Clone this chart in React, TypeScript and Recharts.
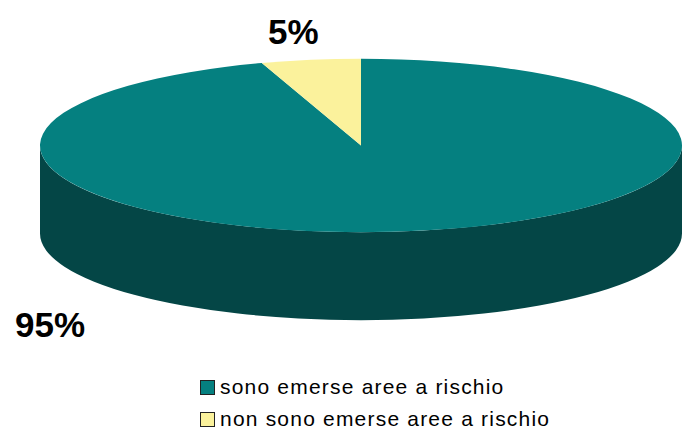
import { PieChart, Pie, Legend } from "recharts";

const categories = ["sono emerse aree a rischio", "non sono emerse aree a rischio"];
const values = [95, 5];

const topColors = ["#058080", "#FBF29C"];
const sideColors = ["#044646", "#B8B070"];

// tilt of the ellipse and thickness of the disc
const TILT = 0.27;
const DEPTH = 88;
const FONT = "'Liberation Sans', Arial, sans-serif";

const pieData = categories.map((name, i) => ({ name, value: values[i] }));

function pt(cx: number, cy: number, rx: number, ry: number, deg: number) {
  const r = (deg * Math.PI) / 180;
  return [cx + rx * Math.cos(r), cy - ry * Math.sin(r)];
}

// percent label anchors, relative to pie center
const labelOffsets = [
  [-346, 191],
  [-93, -102],
];

function Slice3D(props: any) {
  const { cx, cy, outerRadius, startAngle, endAngle, index, percent } = props;
  const rx = outerRadius;
  const ry = outerRadius * TILT;
  const a1 = Math.min(startAngle, endAngle);
  const a2 = Math.max(startAngle, endAngle);

  // front wall: only the part of the arc in the lower half is visible
  const sides: string[] = [];
  for (let k = Math.floor(a1 / 360) - 1; k <= Math.ceil(a2 / 360); k++) {
    const lo = Math.max(a1, 180 + 360 * k);
    const hi = Math.min(a2, 360 + 360 * k);
    if (hi > lo) {
      const [x1, y1] = pt(cx, cy, rx, ry, lo);
      const [x2, y2] = pt(cx, cy, rx, ry, hi);
      sides.push(
        `M${x1},${y1} A${rx},${ry} 0 0 0 ${x2},${y2} L${x2},${y2 + DEPTH} A${rx},${ry} 0 0 1 ${x1},${y1 + DEPTH} Z`
      );
    }
  }

  const [sx, sy] = pt(cx, cy, rx, ry, a1);
  const [ex, ey] = pt(cx, cy, rx, ry, a2);
  const large = a2 - a1 > 180 ? 1 : 0;
  const top = `M${cx},${cy} L${sx},${sy} A${rx},${ry} 0 ${large} 0 ${ex},${ey} Z`;

  const [dx, dy] = labelOffsets[index] ?? [0, 0];

  return (
    <g>
      {sides.map((d, i) => (
        <path key={i} d={d} fill={sideColors[index]} stroke="none" />
      ))}
      <path d={top} fill={topColors[index]} stroke="none" />
      <text
        x={cx + dx}
        y={cy + dy}
        fontFamily={FONT}
        fontWeight="bold"
        fontSize={35}
        fill="#000"
      >
        {Math.round(percent * 100)}%
      </text>
    </g>
  );
}

function LegendBox() {
  return (
    <div style={{ fontFamily: FONT, fontSize: 21, letterSpacing: 1.2, color: "#000" }}>
      {categories.map((c, i) => (
        <div key={c} style={{ display: "flex", alignItems: "center", height: 32 }}>
          <span
            style={{
              display: "inline-block",
              width: 13,
              height: 13,
              background: topColors[i],
              border: "1.5px solid #222",
              marginRight: 5,
            }}
          />
          <span style={{ whiteSpace: "nowrap" }}>{c}</span>
        </div>
      ))}
    </div>
  );
}

export default function App() {
  return (
    <div style={{ position: "absolute", left: 0, top: 0, width: 682, height: 429, background: "#fff" }}>
      <PieChart width={682} height={429} margin={{ top: 0, right: 0, bottom: 0, left: 0 }}>
        <Pie
          data={pieData}
          dataKey="value"
          nameKey="name"
          cx={361}
          cy={145.5}
          outerRadius={321}
          startAngle={108}
          endAngle={468}
          fill="none"
          stroke="none"
          labelLine={false}
          label={(p: any) => <Slice3D {...p} />}
          isAnimationActive={false}
        />
        <Legend
          content={() => <LegendBox />}
          wrapperStyle={{ left: 200, top: 371, width: "auto" }}
        />
      </PieChart>
    </div>
  );
}
